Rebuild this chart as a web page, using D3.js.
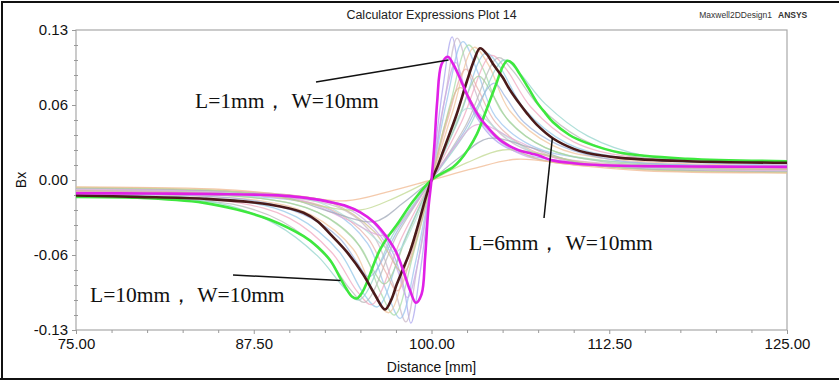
<!DOCTYPE html>
<html>
<head>
<meta charset="utf-8">
<script src="https://cdn.jsdelivr.net/npm/d3@7"></script>
<style>
  html, body { margin: 0; padding: 0; background: #fff; }
  #chart svg { display: block; }
</style>
</head>
<body>
<div id="chart"></div>
<script>

// --------------------------------------
//  Data (distance mm, Bx)
// --------------------------------------

const xTicks = [75, 87.5, 100, 112.5, 125];
const yTicks = [-0.13, -0.065, 0, 0.065, 0.13];
const yTickLabels = ["-0.13", "-0.06", "0.00", "0.06", "0.13"];

// highlighted curves
const curveL1 = [[75,-0.0115],[80,-0.0117],[85,-0.0122],[88,-0.0128],[90,-0.014],[92,-0.017],[93,-0.0195],[94,-0.0225],[95,-0.028],[96,-0.037],[97,-0.052],[97.5,-0.062],[98,-0.078],[98.5,-0.096],[98.9,-0.1064],[99.3,-0.099],[99.55,-0.067],[99.78,-0.025],[100,0],[100.2,0.030],[100.4,0.068],[100.7,0.100],[101.14,0.1068],[101.5,0.101],[101.9,0.091],[102.5,0.074],[103,0.062],[103.4,0.054],[104,0.045],[104.6,0.037],[105,0.033],[106,0.0265],[107,0.023],[107.6,0.021],[108.5,0.017],[110,0.0145],[111,0.0134],[112,0.0128],[115,0.012],[120,0.0116],[125,0.0114]];

const curveL6 = [[75,-0.0134],[79.3,-0.0146],[84,-0.0163],[88.6,-0.0212],[91,-0.0284],[92,-0.036],[92.9,-0.0472],[94,-0.0617],[95.2,-0.0819],[96,-0.099],[96.73,-0.1122],[97.2,-0.103],[97.55,-0.0906],[98,-0.077],[98.5,-0.0617],[99.2,-0.0328],[99.6,-0.015],[100,0],[100.4,0.011],[100.83,0.0253],[101.3,0.041],[101.77,0.057],[102.5,0.086],[103,0.104],[103.41,0.1142],[103.9,0.109],[104.34,0.1003],[105,0.089],[105.52,0.078],[106.2,0.066],[106.7,0.058],[107.4,0.048],[108.55,0.036],[110,0.027],[110.9,0.0236],[113.3,0.0192],[118,0.0163],[125,0.0149]];

const curveL10 = [[75,-0.0146],[79.3,-0.0154],[84,-0.0198],[86.3,-0.0256],[88.6,-0.0342],[91,-0.0487],[92,-0.058],[92.9,-0.070],[93.5,-0.083],[94,-0.094],[94.4,-0.101],[94.74,-0.1027],[95.1,-0.098],[95.45,-0.089],[96,-0.071],[96.4,-0.060],[97,-0.048],[97.55,-0.039],[98.7,-0.0184],[100,0],[101,0.0075],[101.5,0.011],[102,0.017],[102.6,0.027],[103.2,0.040],[103.9,0.062],[104.6,0.085],[105,0.098],[105.33,0.1033],[105.7,0.101],[106.2,0.092],[106.8,0.080],[107.4,0.0675],[108,0.058],[108.55,0.050],[109.7,0.039],[110.9,0.0322],[113.3,0.0236],[118,0.0184],[125,0.0163]];

// background sweep curves
const sweepTall = [
  [[75,-0.0095],[90,-0.013],[95,-0.028],[97,-0.056],[98,-0.090],[98.55,-0.124],[99.2,-0.080],[100,0],[100.8,0.080],[101.45,0.124],[102,0.092],[103,0.058],[105,0.030],[110,0.015],[125,0.0095]],
  [[75,-0.010],[90,-0.015],[94,-0.027],[96,-0.050],[97.3,-0.090],[98.2,-0.123],[99,-0.075],[100,0],[101,0.075],[101.8,0.123],[102.7,0.090],[104,0.052],[106,0.030],[110,0.017],[125,0.010]],
  [[75,-0.0105],[90,-0.017],[93,-0.027],[95.5,-0.055],[96.8,-0.095],[97.8,-0.120],[98.9,-0.070],[100,0],[101.1,0.070],[102.2,0.120],[103.2,0.095],[104.5,0.055],[107,0.030],[111,0.018],[125,0.0105]],
  [[75,-0.011],[88,-0.016],[92,-0.028],[95,-0.058],[96.4,-0.097],[97.4,-0.117],[98.7,-0.065],[100,0],[101.3,0.065],[102.6,0.117],[103.6,0.097],[105,0.058],[108,0.028],[112,0.017],[125,0.011]],
  [[75,-0.012],[88,-0.018],[91.5,-0.030],[94.5,-0.060],[96,-0.100],[97,-0.115],[98.5,-0.060],[100,0],[101.5,0.060],[103,0.115],[104,0.100],[105.5,0.060],[108.5,0.030],[112,0.019],[125,0.012]],
  [[75,-0.013],[87,-0.019],[90.5,-0.032],[93.5,-0.062],[95.2,-0.098],[96.2,-0.110],[98.1,-0.052],[100,0],[101.9,0.052],[103.8,0.110],[104.8,0.098],[106.5,0.062],[109.5,0.032],[113,0.020],[125,0.013]],
  [[75,-0.014],[86,-0.019],[90,-0.033],[93,-0.063],[94.8,-0.097],[95.8,-0.108],[97.9,-0.050],[100,0],[102.1,0.050],[104.2,0.108],[105.2,0.097],[107,0.063],[110,0.033],[114,0.020],[125,0.014]],
  [[75,-0.0145],[86,-0.021],[89.5,-0.036],[92.5,-0.065],[94.3,-0.095],[95.3,-0.106],[97.6,-0.047],[100,0],[102.4,0.047],[104.7,0.106],[105.7,0.095],[107.5,0.065],[110.5,0.036],[114,0.021],[125,0.0145]],
  [[75,-0.015],[85,-0.020],[89,-0.038],[92,-0.066],[93.9,-0.094],[94.9,-0.104],[97.4,-0.045],[100,0],[102.6,0.045],[105.1,0.104],[106.1,0.094],[108,0.066],[111,0.038],[115,0.021],[125,0.015]]
];

const sweepMid = [
  [[75,-0.0095],[90,-0.014],[94,-0.024],[96.5,-0.050],[97.6,-0.078],[98.3,-0.102],[99.15,-0.065],[100,0],[100.85,0.065],[101.7,0.102],[102.4,0.078],[103.5,0.050],[106,0.024],[110,0.014],[125,0.0095]],
  [[75,-0.010],[89,-0.015],[93,-0.026],[95.5,-0.050],[96.7,-0.078],[97.6,-0.096],[98.8,-0.055],[100,0],[101.2,0.055],[102.4,0.096],[103.3,0.078],[104.5,0.050],[107,0.026],[111,0.015],[125,0.010]],
  [[75,-0.011],[88,-0.016],[92,-0.028],[94.5,-0.050],[95.8,-0.076],[96.7,-0.090],[98.35,-0.046],[100,0],[101.65,0.046],[103.3,0.090],[104.2,0.076],[105.5,0.050],[108,0.028],[112,0.016],[125,0.011]],
  [[75,-0.012],[87,-0.017],[91,-0.030],[93.5,-0.050],[94.8,-0.072],[95.6,-0.084],[97.8,-0.040],[100,0],[102.2,0.040],[104.4,0.084],[105.2,0.072],[106.5,0.050],[109,0.030],[113,0.017],[125,0.012]]
];

const sweepLow = [
  [[75,-0.009],[88,-0.012],[93,-0.020],[96,-0.045],[98,-0.080],[99,-0.050],[100,0],[101,0.050],[102,0.080],[104,0.045],[107,0.020],[112,0.012],[125,0.009]],
  [[75,-0.008],[88,-0.012],[92,-0.019],[95,-0.040],[97.5,-0.062],[98.75,-0.038],[100,0],[101.25,0.038],[102.5,0.062],[105,0.040],[108,0.019],[112,0.012],[125,0.008]],
  [[75,-0.008],[87,-0.011],[91,-0.018],[94,-0.034],[96.8,-0.048],[98.4,-0.028],[100,0],[101.6,0.028],[103.2,0.048],[106,0.034],[109,0.018],[113,0.011],[125,0.008]],
  [[75,-0.007],[86,-0.010],[90,-0.016],[93,-0.028],[96,-0.036],[98,-0.020],[100,0],[102,0.020],[104,0.036],[107,0.028],[110,0.016],[114,0.010],[125,0.007]],
  [[75,-0.0065],[85,-0.009],[89,-0.014],[92,-0.022],[95,-0.026],[97.5,-0.015],[100,0],[102.5,0.015],[105,0.026],[108,0.022],[111,0.014],[115,0.009],[125,0.0065]],
  [[75,-0.006],[85,-0.008],[90,-0.013],[94,-0.018],[97,-0.010],[100,0],[103,0.010],[106,0.018],[110,0.013],[115,0.008],[125,0.006]]
];

const sweepColors = ["#a9a4ee", "#c9b8c8", "#9cc4ee", "#a8dca8", "#f0c49c", "#94c8e8",
                     "#f0a8c0", "#b8b8b8", "#94d4cc", "#c8a8e8", "#e8b0a8", "#a8d0a0",
                     "#9cb4e0", "#d0c090", "#b0e0d8", "#e0a8d8", "#a0a8b8", "#c0d890", "#f0b890"];

// --------------------------------------
//  Margin and canvas
// --------------------------------------

const width = 839;
const height = 383;
const margin = {top: 30, right: 52, bottom: 53, left: 76};
const innerwidth = width - margin.left - margin.right;
const innerheight = height - margin.top - margin.bottom;

const sans = "'Liberation Sans', Arial, sans-serif";
const serif = "'Liberation Serif', 'Times New Roman', serif";

const svg = d3.select("#chart")
  .append("svg")
    .attr("width", width)
    .attr("height", height)
    .attr("viewBox", `0 0 ${width} ${height}`)
    .style("font-family", sans);

// outer frame
svg.append("path")
    .attr("d", `M2,${height - 4} L2,2 L${width},2`)
    .attr("fill", "none")
    .attr("stroke", "#111")
    .attr("stroke-width", 2);
svg.append("line")
    .attr("x1", 0).attr("x2", width)
    .attr("y1", height - 4).attr("y2", height - 4)
    .attr("stroke", "#111")
    .attr("stroke-width", 2);

const innerChart = svg.append("g")
    .attr("transform", `translate(${margin.left}, ${margin.top})`);

// --------------------------------------
//  Scales
// --------------------------------------

const x = d3.scaleLinear().domain([75, 125]).range([0, innerwidth]);
const y = d3.scaleLinear().domain([-0.13, 0.13]).range([innerheight, 0]);

const line = d3.line()
    .x(d => x(d[0]))
    .y(d => y(d[1]))
    .curve(d3.curveCatmullRom.alpha(0.5));

// --------------------------------------
//  Axes
// --------------------------------------

innerChart.append("rect")
    .attr("width", innerwidth)
    .attr("height", innerheight)
    .attr("fill", "none")
    .attr("stroke", "#a8a8a8")
    .attr("stroke-width", 1.2);

const xMinor = d3.range(75, 125.01, 2.5).filter(v => !xTicks.includes(v));
const yMinor = d3.range(-0.13, 0.1301, 0.013).filter(v => !yTicks.some(t => Math.abs(t - v) < 1e-6));

innerChart.append("g")
    .attr("transform", `translate(0, ${innerheight})`)
    .call(d3.axisBottom(x).tickValues(xMinor).tickSize(3).tickFormat(""))
    .call(g => g.select(".domain").remove())
    .call(g => g.selectAll("line").attr("stroke", "#999"));

innerChart.append("g")
    .attr("class", "x-axis")
    .attr("transform", `translate(0, ${innerheight})`)
    .call(d3.axisBottom(x)
        .tickValues(xTicks)
        .tickSize(4)
        .tickPadding(4)
        .tickFormat(d3.format(".2f")))
    .call(g => g.select(".domain").remove())
    .call(g => g.selectAll("line").attr("stroke", "#999"))
    .call(g => g.selectAll("text")
        .attr("fill", "#111")
        .style("font-size", "15px")
        .style("font-family", sans));

innerChart.append("g")
    .call(d3.axisLeft(y).tickValues(yMinor).tickSize(2).tickFormat(""))
    .call(g => g.select(".domain").remove())
    .call(g => g.selectAll("line").attr("x2", 2).attr("x1", -2).attr("stroke", "#999"));

innerChart.append("g")
    .attr("class", "y-axis")
    .call(d3.axisLeft(y)
        .tickValues(yTicks)
        .tickSize(4)
        .tickPadding(4)
        .tickFormat((d, i) => yTickLabels[i]))
    .call(g => g.select(".domain").remove())
    .call(g => g.selectAll("line").attr("stroke", "#999"))
    .call(g => g.selectAll("text")
        .attr("fill", "#111")
        .style("font-size", "15px")
        .style("font-family", sans));

svg.append("text")
    .attr("transform", `translate(26, ${margin.top + innerheight / 2}) rotate(-90)`)
    .attr("text-anchor", "middle")
    .style("font-size", "14px")
    .attr("fill", "#111")
    .text("Bx");

svg.append("text")
    .attr("x", margin.left + innerwidth / 2)
    .attr("y", 372)
    .attr("text-anchor", "middle")
    .style("font-size", "14px")
    .attr("fill", "#111")
    .text("Distance [mm]");

svg.append("text")
    .attr("x", margin.left + innerwidth / 2)
    .attr("y", 19)
    .attr("text-anchor", "middle")
    .style("font-size", "12.5px")
    .attr("fill", "#222")
    .text("Calculator Expressions Plot 14");

svg.append("text")
    .attr("x", 772)
    .attr("y", 18)
    .attr("text-anchor", "end")
    .style("font-size", "8.5px")
    .attr("fill", "#333")
    .text("Maxwell2DDesign1");

svg.append("text")
    .attr("x", 778)
    .attr("y", 18)
    .style("font-size", "8.5px")
    .style("font-weight", "bold")
    .attr("fill", "#333")
    .text("ANSYS");

// --------------------------------------
//  Data drawing
// --------------------------------------

svg.append("clipPath").attr("id", "plot-clip")
  .append("rect")
    .attr("width", innerwidth)
    .attr("height", innerheight);

const plot = innerChart.append("g").attr("clip-path", "url(#plot-clip)");

const sweep = sweepTall.concat(sweepMid, sweepLow);

plot.selectAll(".sweep")
    .data(sweep)
    .join("path")
    .attr("class", "sweep")
    .attr("d", line)
    .attr("fill", "none")
    .attr("stroke", (d, i) => sweepColors[i % sweepColors.length])
    .attr("stroke-width", 1.3)
    .attr("opacity", 0.75);

const mainCurves = [
  {values: curveL10, color: "#3ee83e"},
  {values: curveL6, color: "#4a1a1a"},
  {values: curveL1, color: "#e020e6"}
];

plot.selectAll(".main")
    .data(mainCurves)
    .join("path")
    .attr("class", "main")
    .attr("d", d => line(d.values))
    .attr("fill", "none")
    .attr("stroke", d => d.color)
    .attr("stroke-width", 2.6);

// --------------------------------------
//  Annotations
// --------------------------------------

const notes = [
  {head: "L=1mm，", tail: "W=10mm", tx: 195, ty: 108, at: [101.2, 0.104], from: [316, 82]},
  {head: "L=6mm，", tail: "W=10mm", tx: 469, ty: 250, at: [108.5, 0.0365], from: [544, 218]},
  {head: "L=10mm，", tail: "W=10mm", tx: 90, ty: 302, at: [93.6, -0.087], from: [233, 275]}
];

svg.selectAll(".leader")
    .data(notes)
    .join("line")
    .attr("class", "leader")
    .attr("x1", d => d.from[0])
    .attr("y1", d => d.from[1])
    .attr("x2", d => margin.left + x(d.at[0]))
    .attr("y2", d => margin.top + y(d.at[1]))
    .attr("stroke", "#111")
    .attr("stroke-width", 1.5);

const noteText = svg.selectAll(".note")
    .data(notes)
    .join("text")
    .attr("class", "note")
    .attr("x", d => d.tx)
    .attr("y", d => d.ty)
    .style("font-size", "21.5px")
    .style("font-family", serif)
    .attr("fill", "#111");

noteText.append("tspan").text(d => d.head);
noteText.append("tspan").attr("dx", 5).text(d => d.tail);

</script>
</body>
</html>
